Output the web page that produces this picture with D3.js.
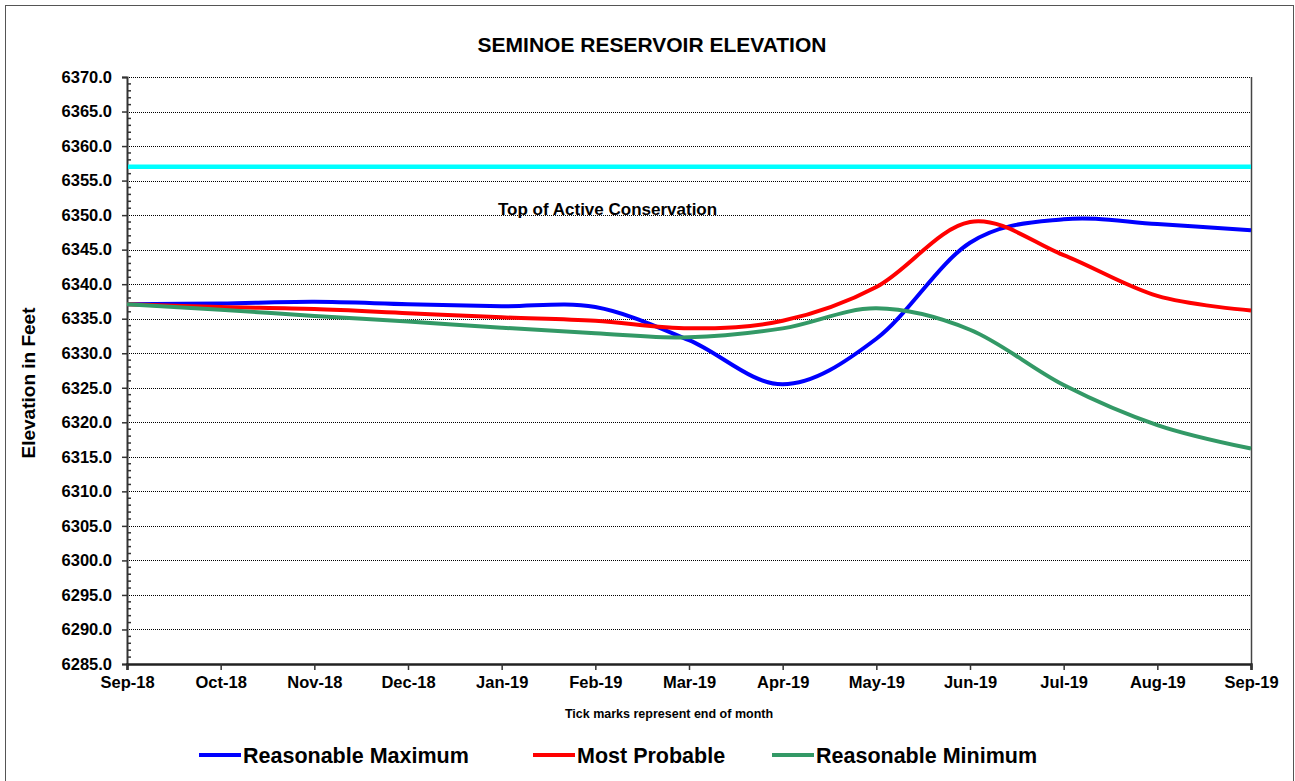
<!DOCTYPE html>
<html>
<head>
<meta charset="utf-8">
<script src="https://cdn.jsdelivr.net/npm/d3@7"></script>
<style>
  html, body { margin: 0; padding: 0; background: #fff; }
  svg { display: block; font-family: "Liberation Sans", Arial, Helvetica, sans-serif; font-weight: bold; }
</style>
</head>
<body>
<svg id="chart" width="1295" height="781"></svg>
<script>
// Month-end labels along the x axis
const months = ["Sep-18","Oct-18","Nov-18","Dec-18","Jan-19","Feb-19","Mar-19",
                "Apr-19","May-19","Jun-19","Jul-19","Aug-19","Sep-19"];

// Elevation forecasts (ft), one value per month end
const reasonableMax = [6337.1, 6337.2, 6337.45, 6337.1, 6336.8, 6336.7, 6331.9,
                       6325.5, 6332.1, 6346.0, 6349.4, 6348.7, 6347.8];
const mostProbable  = [6337.1, 6336.7, 6336.4, 6335.8, 6335.2, 6334.7, 6333.6,
                       6334.7, 6339.6, 6349.0, 6344.2, 6338.3, 6336.2];
const reasonableMin = [6337.1, 6336.3, 6335.4, 6334.6, 6333.7, 6332.9, 6332.3,
                       6333.6, 6336.5, 6333.4, 6325.4, 6319.6, 6316.2];

// Top of active conservation pool
const topOfConservation = 6357.0;

// Y axis range and tick labels
const yTicks = d3.range(6285, 6370.001, 5);
const yMinorTicks = d3.range(6285, 6370.001, 1);

const series = [
  { name: "Reasonable Maximum", values: reasonableMax, color: "#0000ff" },
  { name: "Most Probable",      values: mostProbable,  color: "#ff0000" },
  { name: "Reasonable Minimum", values: reasonableMin, color: "#339966" }
];

const svg = d3.select("#chart");
const W = 1295, H = 781;
const plot = { left: 127, right: 1251, top: 77, bottom: 664 };

// Outer frame
svg.append("rect")
  .attr("x", 5.5).attr("y", 5.5)
  .attr("width", W - 7).attr("height", H)
  .attr("fill", "none").attr("stroke", "#555").attr("stroke-width", 1);

const x = d3.scalePoint().domain(months).range([plot.left, plot.right]);
const y = d3.scaleLinear().domain([6285, 6370]).range([plot.bottom, plot.top]);

// Horizontal dotted gridlines
svg.append("g")
  .selectAll("line")
  .data(yTicks.filter(v => v > 6285))
  .join("line")
  .attr("x1", plot.left).attr("x2", plot.right)
  .attr("y1", d => Math.round(y(d)) + 0.5).attr("y2", d => Math.round(y(d)) + 0.5)
  .attr("stroke", "#000").attr("stroke-width", 1)
  .attr("stroke-dasharray", "1,1");

// Right border of plot area
svg.append("line")
  .attr("x1", plot.right + 0.5).attr("x2", plot.right + 0.5)
  .attr("y1", plot.top).attr("y2", plot.bottom + 4)
  .attr("stroke", "#444").attr("stroke-width", 1.5);

// Y axis: major ticks outside with labels
const yAxis = d3.axisLeft(y)
  .tickValues(yTicks)
  .tickSize(5)
  .tickFormat(d3.format(".1f"));
const gy = svg.append("g")
  .attr("transform", `translate(${plot.left},0)`)
  .call(yAxis);
gy.select(".domain").attr("stroke", "#333").attr("stroke-width", 2);
gy.selectAll(".tick line").attr("stroke", "#333").attr("stroke-width", 1.5);
gy.selectAll(".tick text")
  .attr("x", -15)
  .style("font-size", "16.5px").style("font-weight", "bold")
  .style("font-family", "'Liberation Sans', Arial, sans-serif")
  .attr("fill", "#000");

// Y axis: minor ticks inside
svg.append("g")
  .selectAll("line")
  .data(yMinorTicks.filter(v => v % 5 !== 0))
  .join("line")
  .attr("x1", plot.left).attr("x2", plot.left + 4)
  .attr("y1", d => y(d)).attr("y2", d => y(d))
  .attr("stroke", "#333").attr("stroke-width", 1.5);

// X axis
const xAxis = d3.axisBottom(x).tickSize(6).tickPadding(6);
const gx = svg.append("g")
  .attr("transform", `translate(0,${plot.bottom})`)
  .call(xAxis);
gx.select(".domain").attr("stroke", "#222").attr("stroke-width", 2.5);
gx.selectAll(".tick line").attr("stroke", "#333").attr("stroke-width", 1.5);
gx.selectAll(".tick text")
  .style("font-size", "16.5px").style("font-weight", "bold")
  .style("font-family", "'Liberation Sans', Arial, sans-serif")
  .attr("fill", "#000");

// Top of active conservation
svg.append("line")
  .attr("x1", plot.left + 1).attr("x2", plot.right)
  .attr("y1", y(topOfConservation)).attr("y2", y(topOfConservation))
  .attr("stroke", "#00ffff").attr("stroke-width", 4.5);

svg.append("text")
  .attr("x", 498).attr("y", 215)
  .style("font-size", "17px")
  .text("Top of Active Conservation");

// Forecast traces
const line = d3.line()
  .x((d, i) => x(months[i]))
  .y(d => y(d))
  .curve(d3.curveCardinal.tension(0));

svg.append("g")
  .selectAll("path")
  .data(series)
  .join("path")
  .attr("d", s => line(s.values))
  .attr("fill", "none")
  .attr("stroke", s => s.color)
  .attr("stroke-width", 4)
  .attr("stroke-linejoin", "round");

// Title
svg.append("text")
  .attr("x", 652).attr("y", 52)
  .attr("text-anchor", "middle")
  .style("font-size", "21px")
  .text("SEMINOE RESERVOIR ELEVATION");

// Y axis title
svg.append("text")
  .attr("transform", `translate(35,${383}) rotate(-90)`)
  .attr("text-anchor", "middle")
  .style("font-size", "19px")
  .text("Elevation in Feet");

// X axis note
svg.append("text")
  .attr("x", 669).attr("y", 718)
  .attr("text-anchor", "middle")
  .style("font-size", "12.5px")
  .text("Tick marks represent end of month");

// Legend
const legendX = [199, 533, 772];
const lg = svg.append("g")
  .selectAll("g")
  .data(series)
  .join("g")
  .attr("transform", (s, i) => `translate(${legendX[i]},755)`);
lg.append("line")
  .attr("x1", 0).attr("x2", 42)
  .attr("y1", 0).attr("y2", 0)
  .attr("stroke", s => s.color).attr("stroke-width", 4);
lg.append("text")
  .attr("x", 44).attr("y", 7.5)
  .style("font-size", "21.5px")
  .text(s => s.name);
</script>
</body>
</html>
